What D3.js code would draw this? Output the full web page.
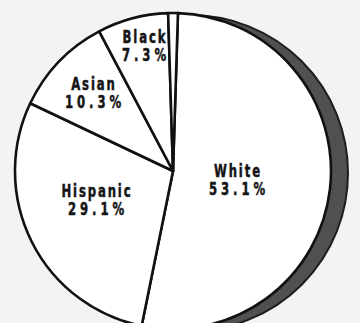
<!DOCTYPE html>
<html>
<head>
<meta charset="utf-8">
<script src="https://cdn.jsdelivr.net/npm/d3@7"></script>
<style>
  html, body { margin: 0; padding: 0; background: #f3f3f1; }
  svg { display: block; }
</style>
</head>
<body>
<div id="chart"></div>
<script>
const categories = ['White', 'Hispanic', 'Asian', 'Black', 'Other'];
const shares = [53.1, 29.1, 10.3, 7.3, 1.0];
const shareLabels = ['53.1%', '29.1%', '10.3%', '7.3%', ''];

const WIDTH = 360;
const HEIGHT = 323;
const CX = 173;
const CY = 171;
const RADIUS = 158;
const SHADOW_DX = 17;
const START = 1.8 * Math.PI / 180;
// label centre x and first baseline, relative to the pie centre
const LABEL_POS = [[64, 6], [-77, 26], [-80, -81], [-29, -128], null];
const LINE_GAP = 18;
const SQUEEZE = 0.72;
const NAME_SPACING = 2.6;
const NUM_SPACING = 5.5;

const data = categories.map((c, i) => ({ name: c, value: shares[i], label: shareLabels[i] }));

const svg = d3.select('#chart')
  .append('svg')
    .attr('width', WIDTH)
    .attr('height', HEIGHT);

const g = svg.append('g')
  .attr('transform', `translate(${CX}, ${CY})`);

// grey shadow behind the pie
g.append('circle')
  .attr('cx', SHADOW_DX)
  .attr('cy', 2)
  .attr('r', RADIUS)
  .attr('fill', '#505050')
  .attr('stroke', '#1e1e1e')
  .attr('stroke-width', 2);

const pie = d3.pie()
  .sort(null)
  .value(d => d.value)
  .startAngle(START)
  .endAngle(START + 2 * Math.PI);

const arc = d3.arc()
  .innerRadius(0)
  .outerRadius(RADIUS);

g.selectAll('path.slice')
  .data(pie(data))
  .enter()
  .append('path')
    .attr('class', 'slice')
    .attr('d', arc)
    .attr('fill', '#ffffff')
    .attr('stroke', '#111')
    .attr('stroke-width', 2.6)
    .attr('stroke-linejoin', 'round');

const labelData = data.filter((d, i) => LABEL_POS[i]);

const labels = g.selectAll('g.lbl')
  .data(labelData)
  .enter()
  .append('g')
    .attr('class', 'lbl')
    .attr('transform', (d, i) => `translate(${LABEL_POS[i][0]}, ${LABEL_POS[i][1]}) scale(${SQUEEZE}, 1)`)
    .attr('fill', '#141414')
    .attr('stroke', '#141414')
    .attr('stroke-width', 0.5)
    .style('font-family', '"DejaVu Sans Condensed", "DejaVu Sans", sans-serif')
    .style('font-weight', 'bold')
    .style('font-size', '18px')
    .attr('text-anchor', 'middle');

labels.append('text')
  .attr('x', NAME_SPACING / 2)
  .style('letter-spacing', NAME_SPACING + 'px')
  .text(d => d.name);

labels.append('text')
  .attr('x', NUM_SPACING / 2)
  .attr('y', LINE_GAP)
  .style('letter-spacing', NUM_SPACING + 'px')
  .text(d => d.label);
</script>
</body>
</html>
